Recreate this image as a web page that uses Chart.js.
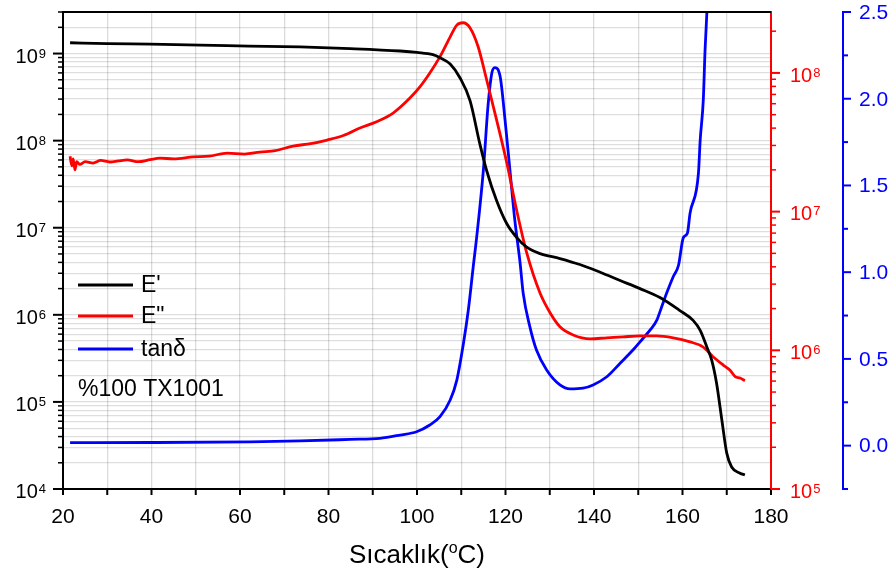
<!DOCTYPE html>
<html>
<head>
<meta charset="utf-8">
<script src="https://cdn.jsdelivr.net/npm/chart.js@4.4.0/dist/chart.umd.min.js"></script>
<style>
  html, body { margin: 0; padding: 0; background: #fff; }
  #wrap { width: 895px; height: 581px; }
</style>
</head>
<body>
<div id="wrap"><canvas id="dmaChart" width="895" height="581"></canvas></div>
<script>
// Storage modulus E' (Pa) vs temperature (°C)
const tempE1 = [21.6, 30, 39.7, 51, 62, 73.6, 84.9, 96.2, 100, 103.6, 105.2, 107.5, 109.7, 112, 114.2, 115.75,
  118, 120.3, 122.5, 124.8, 127.8, 132.3, 136.8, 141.4, 145.9, 150.4, 154.9, 159.4, 162.4, 164, 165.5, 166.6,
  167.7, 168.9, 170, 171.1, 173, 174.1];
const valE1 = [1.33e9, 1.30e9, 1.28e9, 1.25e9, 1.22e9, 1.19e9, 1.14e9, 1.07e9, 1.03e9, 9.7e8, 8.95e8, 7.59e8,
  5.28e8, 2.86e8, 9.18e7, 4.51e7, 2.04e7, 1.11e7, 7.76e6, 5.97e6, 5.05e6, 4.43e6, 3.78e6, 3.08e6, 2.48e6, 2.00e6,
  1.58e6, 1.12e6, 8.63e5, 6.62e5, 4.27e5, 3.01e5, 1.64e5, 6.17e4, 2.58e4, 1.79e4, 1.52e4, 1.45e4];

// Loss modulus E'' (Pa)
const tempE2 = [21.6, 22.0, 22.3, 22.7, 23.1, 23.8, 25, 26.8, 28.5, 30.6, 32.5, 34.5, 37, 39.7, 41.9, 45, 49.4,
  53, 57.1, 61, 64.5, 68, 72, 76, 79.7, 83.5, 87.1, 91, 94.6, 98.4, 100.7, 102.9, 105.2, 107.5, 109, 110.4, 112,
  113.8, 115.75, 118, 120.3, 122.5, 124.8, 127.8, 130.1, 132.3, 135.3, 139.1, 142.9, 146.6, 150.4, 154.2, 157.9,
  161.7, 164.6, 166.9, 169.2, 170.7, 171.9, 173, 174.1];
const valE2 = [2.51e7, 2.14e7, 2.40e7, 2.00e7, 2.29e7, 2.19e7, 2.29e7, 2.24e7, 2.34e7, 2.28e7, 2.32e7, 2.36e7,
  2.29e7, 2.37e7, 2.43e7, 2.40e7, 2.48e7, 2.51e7, 2.64e7, 2.60e7, 2.69e7, 2.75e7, 2.97e7, 3.09e7, 3.28e7, 3.55e7,
  4.01e7, 4.47e7, 5.14e7, 6.59e7, 7.96e7, 9.98e7, 1.31e8, 1.82e8, 2.21e8, 2.30e8, 2.11e8, 1.55e8, 8.89e7, 4.57e7,
  2.24e7, 1.03e7, 5.04e6, 2.59e6, 1.86e6, 1.48e6, 1.29e6, 1.21e6, 1.23e6, 1.25e6, 1.27e6, 1.27e6, 1.23e6, 1.15e6,
  1.06e6, 8.99e5, 7.83e5, 7.21e5, 6.46e5, 6.31e5, 6.04e5];

// tan delta
const tempTan = [21.6, 39.7, 62.3, 73.6, 84.9, 91.6, 96.2, 99.9, 102.9, 105.2, 107.5, 109, 110.5, 111.6, 112.7,
  113.5, 115, 116.1, 116.9, 117.6, 118.8, 119.9, 121, 122.1, 123.3, 124, 125.5, 127, 129.3, 132.3, 134.6, 137.5,
  139.8, 142.9, 145.9, 148.8, 151.1, 152.7, 154.2, 155.3, 156.4, 157.9, 159.1, 160.2, 161.1, 161.7, 163.6, 164,
  164.7, 165.1, 165.5, 165.8];
const valTan = [0.017, 0.018, 0.022, 0.027, 0.036, 0.042, 0.061, 0.080, 0.119, 0.167, 0.263, 0.378, 0.590, 0.782,
  1.03, 1.205, 1.589, 1.974, 2.147, 2.179, 2.127, 1.877, 1.589, 1.301, 1.053, 0.878, 0.686, 0.551, 0.436, 0.350,
  0.327, 0.331, 0.350, 0.397, 0.475, 0.551, 0.619, 0.667, 0.724, 0.801, 0.878, 0.974, 1.040, 1.200, 1.224, 1.339,
  1.570, 1.762, 1.993, 2.281, 2.493, 2.7];

// Axis tick labels
const xTickLabels = [20, 40, 60, 80, 100, 120, 140, 160, 180];
const leftExponents = [4, 5, 6, 7, 8, 9];
const rightExponents = [5, 6, 7, 8];
const tanTickLabels = ['0.0', '0.5', '1.0', '1.5', '2.0', '2.5'];

const FONT = "'Liberation Sans', Arial, sans-serif";

function logTickValues(min, max) {
    const out = [];
    for (let e = Math.floor(Math.log10(min)); e <= Math.ceil(Math.log10(max)); e++) {
        for (let k = 1; k <= 9; k++) {
            const v = k * Math.pow(10, e);
            if (v >= min * 0.999 && v <= max * 1.001) out.push(v);
        }
    }
    return out;
}

function toPoints(xs, ys) {
    return xs.map((x, i) => ({ x: x, y: ys[i] }));
}

function drawLine(ctx, x1, y1, x2, y2, color, width) {
    ctx.beginPath();
    ctx.strokeStyle = color;
    ctx.lineWidth = width;
    ctx.moveTo(x1, y1);
    ctx.lineTo(x2, y2);
    ctx.stroke();
}

// draws "10" with a raised exponent, yc = centre of the big digits
function drawPower(ctx, x, yc, exp, align, color) {
    ctx.fillStyle = color;
    ctx.textBaseline = 'alphabetic';
    ctx.textAlign = 'left';
    ctx.font = '20px ' + FONT;
    const w1 = ctx.measureText('10').width;
    ctx.font = '13px ' + FONT;
    const w2 = ctx.measureText(String(exp)).width;
    const start = align === 'right' ? x - w1 - w2 - 1 : x;
    ctx.font = '20px ' + FONT;
    ctx.fillText('10', start, yc + 7.2);
    ctx.font = '13px ' + FONT;
    ctx.fillText(String(exp), start + w1 + 1, yc + 2.3);
}

const decorPlugin = {
    id: 'decor',
    afterDraw(chart) {
        const ctx = chart.ctx;
        const area = chart.chartArea;
        const sx = chart.scales.x;
        const sl = chart.scales.yE1;
        const sr = chart.scales.yE2;
        const sb = chart.scales.yTan;
        ctx.save();

        // top frame
        drawLine(ctx, area.left - 1, area.top, area.right, area.top, '#000', 2);

        // x ticks + labels
        for (let t = 20; t <= 180; t += 10) {
            const px = sx.getPixelForValue(t);
            drawLine(ctx, px, area.bottom, px, area.bottom + 6, '#000', 2);
        }
        ctx.fillStyle = '#000';
        ctx.font = '21px ' + FONT;
        ctx.textAlign = 'center';
        ctx.textBaseline = 'middle';
        xTickLabels.forEach(t => ctx.fillText(String(t), sx.getPixelForValue(t), 517));

        // left log axis
        logTickValues(sl.min, sl.max).forEach(v => {
            const py = sl.getPixelForValue(v);
            const major = Math.abs(Math.log10(v) - Math.round(Math.log10(v))) < 1e-6;
            drawLine(ctx, area.left - (major ? 10 : 5), py, area.left, py, '#000', major ? 2 : 1.5);
        });
        leftExponents.forEach(e => drawPower(ctx, 46, sl.getPixelForValue(Math.pow(10, e)) + 2, e, 'right', '#000'));

        // right red log axis
        logTickValues(sr.min, sr.max).forEach(v => {
            const py = sr.getPixelForValue(v);
            const major = Math.abs(Math.log10(v) - Math.round(Math.log10(v))) < 1e-6;
            drawLine(ctx, area.right, py, area.right + (major ? 9 : 5), py, '#ff0000', major ? 2 : 1.5);
        });
        rightExponents.forEach(e => drawPower(ctx, 790, sr.getPixelForValue(Math.pow(10, e)) + 1.5, e, 'left', '#ff0000'));

        // blue tan delta axis
        const bx = sb.left;
        for (let v = -0.25; v <= 2.5001; v += 0.25) {
            const py = sb.getPixelForValue(v);
            const major = Math.abs(v * 2 - Math.round(v * 2)) < 1e-6;
            drawLine(ctx, bx, py, bx + (major ? 8 : 5), py, '#0000ff', 2);
        }
        ctx.fillStyle = '#0000ff';
        ctx.font = '21px ' + FONT;
        ctx.textAlign = 'left';
        ctx.textBaseline = 'middle';
        tanTickLabels.forEach(s => ctx.fillText(s, 859, sb.getPixelForValue(parseFloat(s)) + 1));

        // axis title: Sıcaklık(°C) with raised o
        ctx.fillStyle = '#000';
        ctx.textBaseline = 'alphabetic';
        ctx.textAlign = 'left';
        ctx.font = '26px ' + FONT;
        const p1 = 'Sıcaklık(', p3 = 'C)';
        const w1 = ctx.measureText(p1).width;
        const w3 = ctx.measureText(p3).width;
        ctx.font = '16px ' + FONT;
        const w2 = ctx.measureText('o').width;
        let tx = (area.left + area.right) / 2 - (w1 + w2 + w3) / 2;
        const base = 563;
        ctx.font = '26px ' + FONT;
        ctx.fillText(p1, tx, base);
        ctx.font = '16px ' + FONT;
        ctx.fillText('o', tx + w1, base - 10);
        ctx.font = '26px ' + FONT;
        ctx.fillText(p3, tx + w1 + w2, base);

        // legend
        const items = [['E\'', '#000000', 285], ['E"', '#ff0000', 316], ['tan\u03b4', '#0000ff', 349]];
        ctx.font = '23px ' + FONT;
        ctx.textBaseline = 'middle';
        items.forEach(it => {
            drawLine(ctx, 78, it[2], 133, it[2], it[1], 2.8);
            ctx.fillStyle = '#000';
            ctx.fillText(it[0], 141, it[2] + 1);
        });
        ctx.fillText('%100 TX1001', 78, 390);

        ctx.restore();
    }
};

const lineStyle = { pointRadius: 0, borderWidth: 2.8, fill: false, cubicInterpolationMode: 'monotone' };

new Chart(document.getElementById('dmaChart').getContext('2d'), {
    type: 'line',
    data: {
        datasets: [
            Object.assign({ label: "E'", data: toPoints(tempE1, valE1), borderColor: '#000000', yAxisID: 'yE1' }, lineStyle),
            Object.assign({ label: 'E"', data: toPoints(tempE2, valE2), borderColor: '#ff0000', yAxisID: 'yE2' }, lineStyle),
            Object.assign({ label: 'tan\u03b4', data: toPoints(tempTan, valTan), borderColor: '#0000ff', yAxisID: 'yTan' }, lineStyle)
        ]
    },
    options: {
        responsive: false,
        animation: false,
        devicePixelRatio: 1,
        layout: { padding: { top: 12, left: 0, right: 0, bottom: 0 } },
        plugins: { legend: { display: false }, tooltip: { enabled: false } },
        scales: {
            x: {
                type: 'linear', position: 'bottom', min: 20, max: 180,
                ticks: { display: false },
                grid: { color: 'rgba(0,0,0,0.14)', lineWidth: 1.3, drawTicks: false },
                border: { color: '#000', width: 2 },
                afterBuildTicks: s => { const t = []; for (let v = 20; v <= 180; v += 10) t.push({ value: v }); s.ticks = t; },
                afterFit: s => { s.height = 92; }
            },
            yE1: {
                type: 'logarithmic', position: 'left', min: 1e4, max: 3e9,
                ticks: { display: false },
                grid: { color: 'rgba(0,0,0,0.13)', lineWidth: 1.2, drawTicks: false },
                border: { color: '#000', width: 2 },
                afterBuildTicks: s => { s.ticks = logTickValues(1e4, 3e9).map(v => ({ value: v })); },
                afterFit: s => { s.width = 63; }
            },
            yE2: {
                type: 'logarithmic', position: 'right', min: 1e5, max: 2.75e8, weight: 0,
                ticks: { display: false },
                grid: { display: false, drawTicks: false },
                border: { color: '#ff0000', width: 2 },
                afterFit: s => { s.width = 72; }
            },
            yTan: {
                type: 'linear', position: 'right', min: -0.25, max: 2.5, weight: 1,
                ticks: { display: false },
                grid: { display: false, drawTicks: false },
                border: { color: '#0000ff', width: 2 },
                afterFit: s => { s.width = 52; }
            }
        }
    },
    plugins: [decorPlugin]
});
</script>
</body>
</html>
